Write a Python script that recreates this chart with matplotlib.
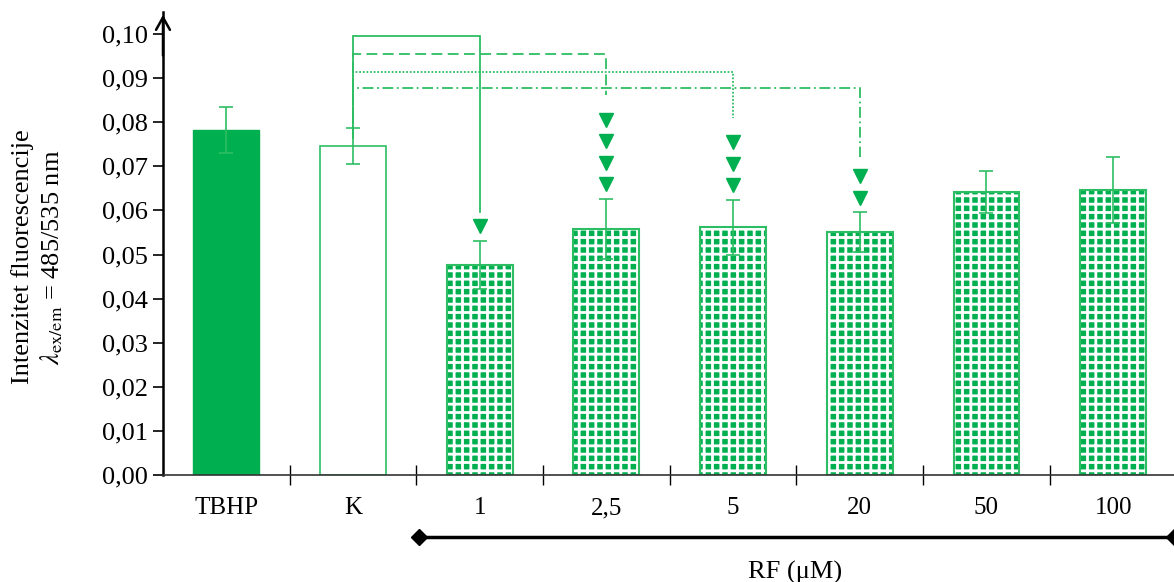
import matplotlib
matplotlib.use("Agg")
import matplotlib.pyplot as plt
import matplotlib.transforms as mtransforms

plt.rcParams['font.family'] = ['Liberation Serif', 'DejaVu Serif']
plt.rcParams['mathtext.fontset'] = 'stix'
plt.rcParams['hatch.linewidth'] = 2.0

# data
categories = ['TBHP', 'K', '1', '2,5', '5', '20', '50', '100']
values = [0.0782, 0.0746, 0.0476, 0.0558, 0.0562, 0.0551, 0.0642, 0.0646]
errors = [0.0052, 0.0041, 0.0055, 0.0068, 0.0062, 0.0045, 0.0047, 0.0075]

# significance vs K
sig_targets = [2, 3, 4, 5]
sig_heights = [0.0995, 0.0955, 0.0914, 0.0878]
sig_ends = [0.0596, 0.0862, 0.0810, 0.0721]
sig_styles = ['-', (0, (6, 3)), (0, (1, 1)), (0, (6, 2, 1, 2))]
sig_counts = [1, 4, 3, 2]

green = '#00B050'
light = '#2DBE63'

fig = plt.figure(figsize=(11.74, 5.82), dpi=100)
ax = fig.add_axes([163 / 1174, 1 - 475 / 582, 1 - 163 / 1174, (475 - 12) / 582])

x = list(range(len(categories)))
for i, v in enumerate(values):
    if i == 0:
        ax.bar(i, v, width=0.52, color=green, edgecolor=green, linewidth=1)
    elif i == 1:
        ax.bar(i, v, width=0.52, color='white', edgecolor=light, linewidth=1.2)
    else:
        # green squares with white gaps, then the outline on top
        ax.bar(i, v, width=0.52, color=green, edgecolor='white', linewidth=0, hatch='++')
        ax.bar(i, v, width=0.52, fill=False, edgecolor=light, linewidth=1.5)

ax.errorbar(x, values, yerr=errors, fmt='none', ecolor=light, elinewidth=1.2,
            capsize=5, capthick=1.2)

# brackets from K to treated bars
k_top = 0.0765
for t, h, e, ls in zip(sig_targets, sig_heights, sig_ends, sig_styles):
    ax.plot([1, 1, t, t], [k_top, h, h, e], color=light, lw=1.3, linestyle=ls,
            solid_joinstyle='miter')

for t, n in zip(sig_targets, sig_counts):
    top = values[t] + errors[t]
    ys = [top + 0.0033 + k * 0.0049 for k in range(n)]
    ax.plot([t] * n, ys, linestyle='none', marker='v', color=green, ms=10)

ax.set_xlim(-0.5, 7.48)
ax.set_ylim(0, 0.105)
ticks = [i / 100 for i in range(11)]
ax.set_yticks(ticks)
ax.set_yticklabels([('%.2f' % t).replace('.', ',') for t in ticks])
ax.set_xticks(x)
ax.set_xticklabels(categories)
ax.set_xticks([i + 0.5 for i in range(7)], minor=True)
ax.tick_params(axis='x', which='major', length=0, pad=16, labelsize=18)
ax.tick_params(axis='x', which='minor', direction='inout', length=14, width=1)
ax.tick_params(axis='y', direction='out', length=7, width=1.2, labelsize=19, pad=4)

ax.spines['top'].set_visible(False)
ax.spines['right'].set_visible(False)
ax.spines['left'].set_linewidth(1.8)
ax.spines['bottom'].set_linewidth(1.2)
ax.spines['bottom'].set_color('#333333')
ax.annotate('', xy=(0, 1.0), xytext=(0, 0.9), xycoords='axes fraction',
            arrowprops=dict(arrowstyle='->,head_length=0.9,head_width=0.5', lw=1.8, color='black'))

fig.text(38 / 1174, 1 - 257 / 582,
         'Intenzitet fluorescencije\n' + r'$\lambda_{\mathrm{ex/em}}$ = 485/535 nm',
         rotation=90, ha='center', va='center', multialignment='center',
         fontsize=19, linespacing=1.2)

# RF concentration bracket under the axis
trans = mtransforms.blended_transform_factory(ax.transData, fig.transFigure)
ax.plot([1.52, 7.48], [1 - 537 / 582] * 2, color='black', lw=2.5, marker='D', ms=8,
        transform=trans, clip_on=False)
fig.text(795 / 1174, 1 - 572 / 582, 'RF (μM)', ha='center', va='center', fontsize=19)

fig.savefig('out.png', dpi=100)
